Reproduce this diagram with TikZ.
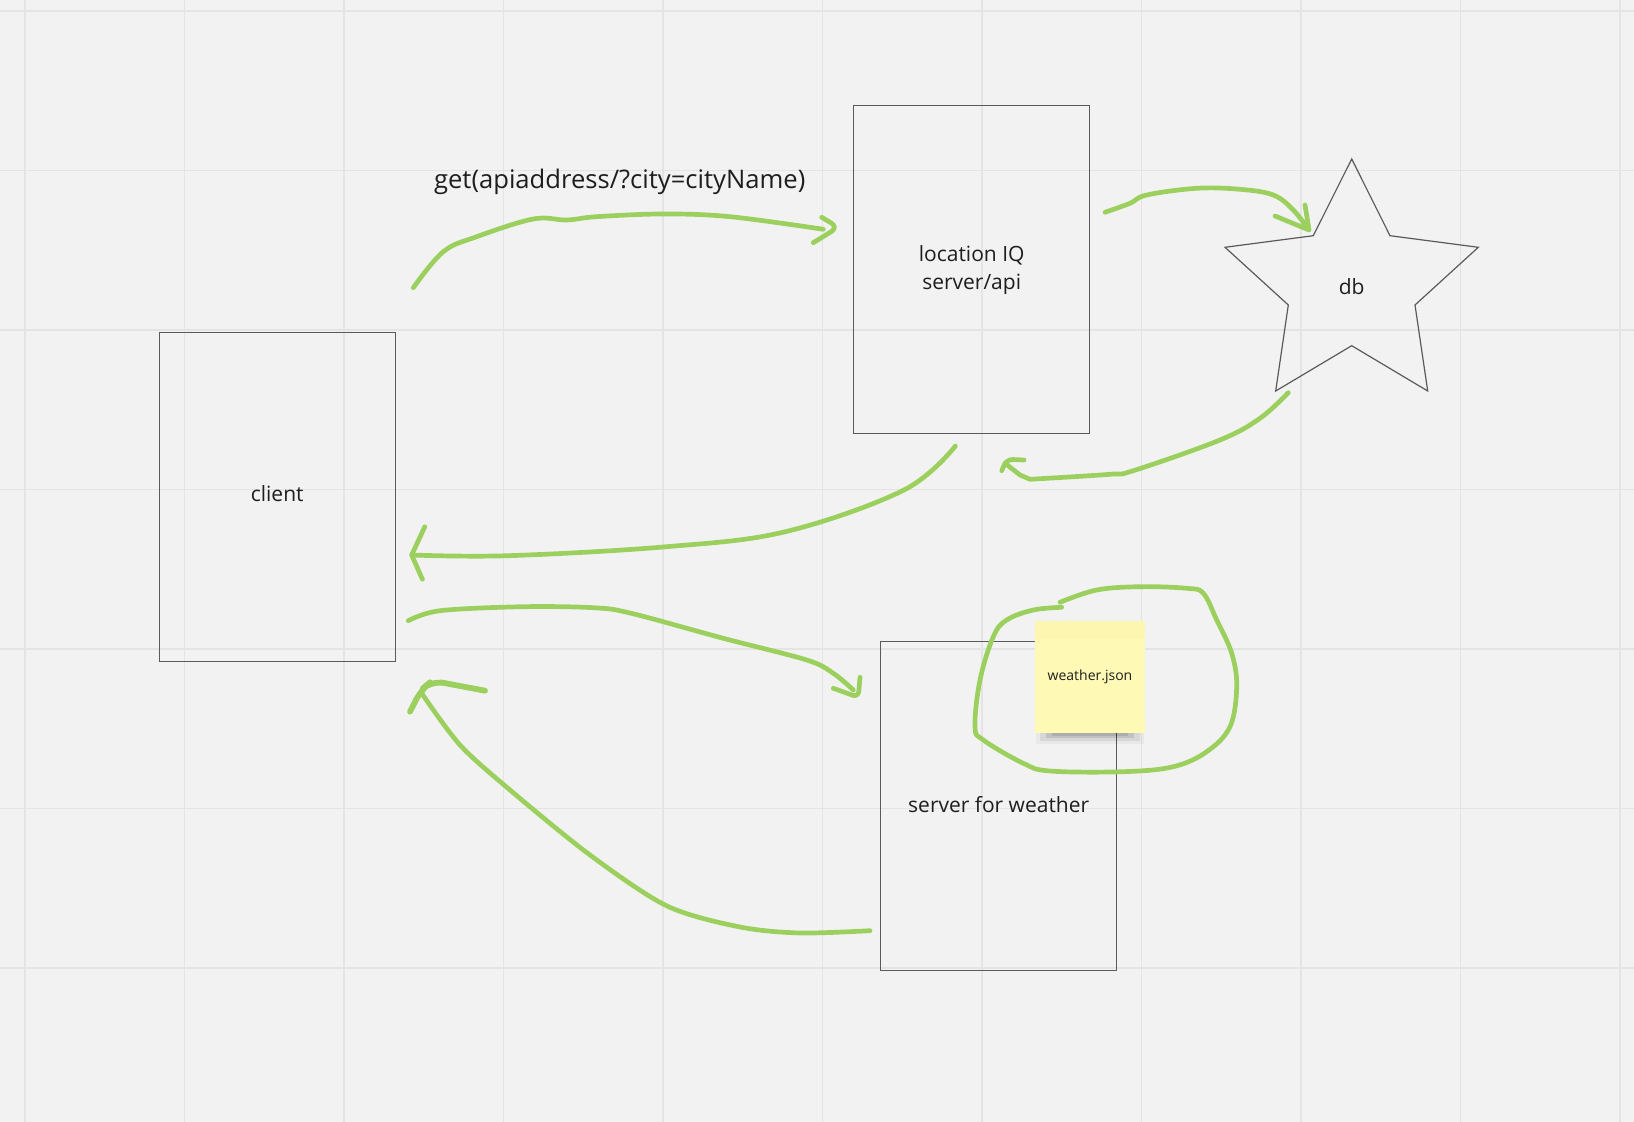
\documentclass[tikz,border=0pt]{standalone}
\usepackage{fontspec}
\setmainfont{Open Sans}
\definecolor{bgc}{RGB}{242,242,242}
\definecolor{gridc}{RGB}{228,228,228}
\definecolor{boxc}{RGB}{90,90,90}
\definecolor{txt}{RGB}{30,30,30}
\definecolor{penc}{RGB}{156,208,94}
\definecolor{notec}{RGB}{255,249,182}
\definecolor{notetop}{RGB}{252,246,176}
\begin{document}
\begin{tikzpicture}[x=0.5pt,y=-0.5pt,
  gridline/.style={draw=gridc, line width=0.9pt},
  boxnode/.style={draw=boxc, line width=0.6pt, minimum width=117.9pt, minimum height=164.2pt, inner sep=0pt},
  lbl/.style={font=\fontsize{10.5pt}{12pt}\selectfont, text=txt, anchor=base, inner sep=0pt},
  biglbl/.style={font=\fontsize{12.8pt}{15pt}\selectfont, text=txt, anchor=base, inner sep=0pt},
  greenpen/.style={draw=penc, line width=2.35pt, line cap=round, line join=round},
  sticky/.style={fill=notec, minimum width=55pt, minimum height=55.5pt, inner sep=0pt, font=\fontsize{7pt}{8pt}\selectfont, text=txt}
]
\fill[bgc] (0,0) rectangle (1634,1122);
\useasboundingbox (0,0) rectangle (1634,1122);
\foreach \i in {0,...,10} \draw[gridline] ({25+159.5*\i},0) -- ({25+159.5*\i},1122);
\foreach \j in {0,...,6} \draw[gridline] (0,{11+159.5*\j}) -- (1634,{11+159.5*\j});

% boxes
\node[boxnode] (client) at (277.4,497) {};
\node[boxnode] (loc) at (971.4,269.7) {};
\node[boxnode] (weather) at (998.3,805.9) {};

% star
\draw[draw=boxc, line width=0.6pt, line join=miter] (1351.7,159) -- (1390,235.7) -- (1478.3,247.3) -- (1415,305) -- (1427.7,391) -- (1351.7,345.7) -- (1275.7,391) -- (1288.3,305) -- (1225,247.3) -- (1313.3,235.7) -- cycle;

% labels
\node[lbl] (clientlbl) at (277.2,501.7) {client};
\node[lbl] (loclbl1) at (971.7,261.7) {location IQ};
\node[lbl] (loclbl2) at (971.7,290) {server/api};
\node[lbl] (weatherlbl) at (998.7,812.3) {server for weather};
\node[lbl] (db) at (1351.7,295) {db};
\node[biglbl] (getlbl) at (619.7,189) {get(apiaddress/?city=cityName)};

% sticky note with shadow
\fill[black, opacity=0.04] (1036,724) rectangle (1144,744);
\fill[black, opacity=0.07] (1040,727) rectangle (1140,741);
\fill[black, opacity=0.10] (1046,729) rectangle (1134,738);
\fill[black, opacity=0.10] (1052,731) rectangle (1128,736);
\node[sticky] (note) at (1090,677.2) {};
\fill[notetop] (note.north west) rectangle ([yshift=-9pt]note.north east);
\node[font=\fontsize{7pt}{8pt}\selectfont, text=txt, inner sep=0pt] (notelbl) at (note.center) {weather.json};

% endpoints
\coordinate (a1s) at (413.3,287.7);
\coordinate (a1e) at (823.3,229.3);
\coordinate (a2s) at (1105,212.3);
\coordinate (a2e) at (1308.3,229.3);
\coordinate (a3s) at (1288.3,392.7);
\coordinate (a3e) at (1005,463.3);
\coordinate (a4s) at (955.4,446);
\coordinate (a4e) at (411.7,555);
\coordinate (a5s) at (408.3,620.7);
\coordinate (a5e) at (853.3,690);
\coordinate (a6s) at (870,930.7);
\coordinate (a6e) at (421.7,693.3);

% client -> location
\draw[greenpen] plot[smooth, tension=0.6] coordinates {(a1s) (443.3,251.7) (476.7,236.7) (533.3,219) (566.7,220) (596.7,216.7) (663.3,214) (730,216.7) (a1e)};
\draw[greenpen, rounded corners=4pt] (821.7,217.3) -- (838.3,227.3) -- (813.3,242.7);

% location -> db
\draw[greenpen] plot[smooth, tension=0.6] coordinates {(a2s) (1130,203.3) (1146.7,195) (1196.7,188.3) (1240,189.3) (1273.3,195) (1293.3,210) (a2e)};
\draw[greenpen] (1275,216) -- (1309,230) -- (1305,205);

% db -> location
\draw[greenpen] plot[smooth, tension=0.6] coordinates {(a3s) (1260,418.3) (1220,440) (1133.3,470.7) (1110,474.3) (1030,479.3)} -- (1020,475) -- (a3e);
\draw[greenpen, rounded corners=3pt] (1001.7,470.7) -- (1006.7,459.3) -- (1024,460);

% location -> client
\draw[greenpen] plot[smooth, tension=0.6] coordinates {(a4s) (904,490) (785.4,531.7) (666.8,546.7) (508.6,555.7) (a4e)};
\draw[greenpen] (424.8,526.7) -- (411.7,555) -- (422.4,579.3);

% client -> weather
\draw[greenpen] plot[smooth, tension=0.55] coordinates {(a5s) (440,610.7) (523.3,606.7) (595,607.8) (632,613.5) (723.3,638.3) (806.7,660) (833.3,673.3) (a5e)};
\draw[greenpen, rounded corners=3pt] (833.3,688.3) -- (858.3,697.3) -- (860,677.3);

% weather -> client
\draw[greenpen] plot[smooth, tension=0.5] coordinates {(a6s) (800,933) (740,927) (667,906) (590,855) (510,790) (460,745) (a6e)};
\draw[greenpen, line width=2.9pt, rounded corners=6pt] (410,711.7) -- (421,690) -- (432,680.7) -- (485,690.7);

% loop around note
\draw[greenpen] plot[smooth, tension=0.6] coordinates {(1061.7,607.3) (1033.3,610) (1006.7,620) (993.3,636.7) (980,680) (975,726.7) (983.3,740) (1023.3,763.3) (1050,771) (1123.3,771.7) (1173.3,766.7) (1206.7,751.7) (1230,726.7) (1236.7,686.7) (1231.7,653.3) (1216.7,620) (1203.3,593.3) (1186.7,588.3) (1140,586.7) (1096.7,590) (1060,602.3)};
\end{tikzpicture}
\end{document}
